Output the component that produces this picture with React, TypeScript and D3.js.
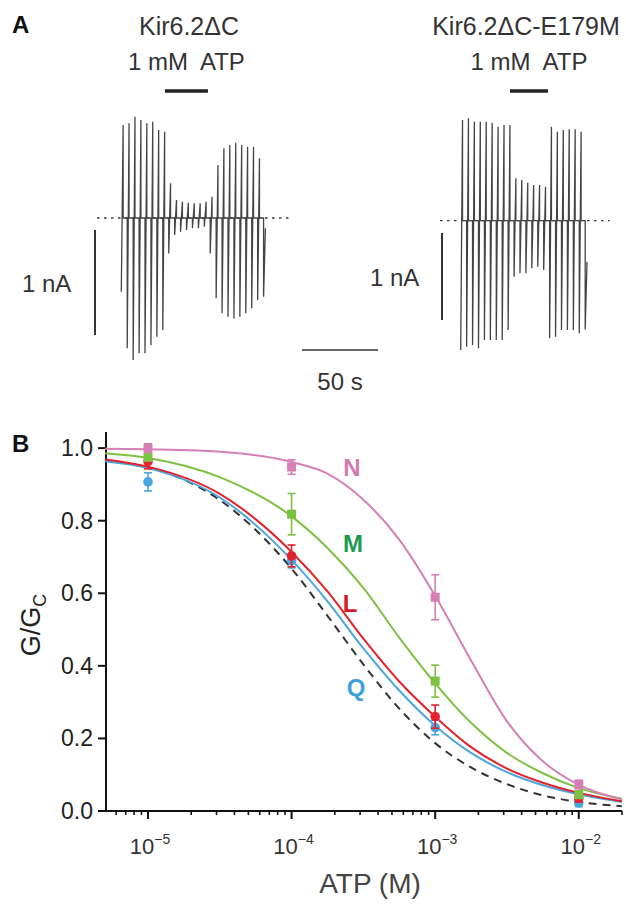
import * as d3 from 'd3'
import { useEffect, useRef } from 'react'

// ---- panel A: ramp currents (nA), one entry per voltage ramp ----
const wtTops = [0.886, 0.902, 0.965, 0.933, 0.902, 0.917, 0.838, 0.822, 0.33, 0.171, 0.155, 0.146, 0.14, 0.14, 0.155, 0.203, 0.505, 0.664, 0.695, 0.717, 0.695, 0.679, 0.679, 0.569, -0.098]
const wtBottoms = [-0.702, -1.241, -1.352, -1.289, -1.289, -1.21, -1.13, -1.067, -0.337, -0.162, -0.13, -0.114, -0.098, -0.098, -0.083, -0.337, -0.765, -0.908, -0.94, -0.956, -0.94, -0.908, -0.86, -0.781, -0.75]
const mutTops = [1.157, 1.177, 1.138, 1.138, 1.138, 1.126, 1.08, 1.1, 1.1, 0.487, 0.468, 0.437, 0.41, 0.41, 0.391, 1.08, 1.023, 1.043, 1.051, 1.051, 1.023, -0.471]
const mutBottoms = [-1.486, -1.448, -1.429, -1.467, -1.371, -1.371, -1.371, -1.371, -1.256, -0.644, -0.605, -0.605, -0.547, -0.529, -0.567, -1.352, -1.333, -1.256, -1.256, -1.256, -1.294, -1.25]
const rampPeriod = 3.9 // s between ramps
const rampWidth = 1.2 // s
const wtAtp = [28.7, 57]
const mutAtp = [32.4, 57.4]

// ---- panel B: dose response ----
const atpConc = [1e-5, 1e-4, 1e-3, 1e-2]
const fitLogX = [-5.3, -5, -4.5, -4, -3.75, -3.5, -3.25, -3, -2.75, -2.5, -2.25, -2, -1.7]
const nFit = [0.998, 0.997, 0.99, 0.962, 0.93, 0.858, 0.748, 0.593, 0.415, 0.247, 0.137, 0.072, 0.032]
const mFit = [0.986, 0.973, 0.92, 0.812, 0.725, 0.615, 0.478, 0.352, 0.243, 0.16, 0.104, 0.063, 0.034]
const lFit = [0.969, 0.949, 0.874, 0.714, 0.605, 0.475, 0.357, 0.26, 0.176, 0.117, 0.078, 0.05, 0.027]
const qFit = [0.964, 0.945, 0.864, 0.692, 0.578, 0.448, 0.332, 0.235, 0.16, 0.107, 0.071, 0.046, 0.025]
const wtFit = [0.965, 0.947, 0.857, 0.668, 0.538, 0.404, 0.282, 0.187, 0.12, 0.074, 0.043, 0.025, 0.013]
const nMean = [1.0, 0.948, 0.589, 0.073]
const nErr = [0.012, 0.02, 0.062, 0.012]
const mMean = [0.975, 0.818, 0.358, 0.045]
const mErr = [0.01, 0.057, 0.044, 0.01]
const lMean = [0.963, 0.703, 0.26, 0.035]
const lErr = [0.02, 0.03, 0.032, 0.01]
const qMean = [0.907, 0.69, 0.23, 0.022]
const qErr = [0.025, 0.02, 0.02, 0.01]
const yTicks = [0, 0.2, 0.4, 0.6, 0.8, 1.0]
const xTicks = [-5, -4, -3, -2]

const FONT = '"Liberation Sans", Arial, Helvetica, sans-serif'
const INK = '#333'

const App = () => {
  const ref = useRef<SVGSVGElement>(null)

  useEffect(() => {
    const svg = d3.select(ref.current)
    svg.selectAll('*').remove()
    svg.attr('width', 626).attr('height', 906)

    // ---------- panel A ----------
    const pxPerSec = 1.52
    const drawTrace = (tops: number[], bottoms: number[], x0: number, zeroY: number, pxPerNa: number, atp: number[], dotted: number[], barX: number, barTop: number, labelX: number, title: string, titleX: number) => {
      const x = d3.scaleLinear().domain([0, 1]).range([x0, x0 + pxPerSec])
      const y = d3.scaleLinear().domain([0, 1]).range([zeroY, zeroY - pxPerNa])
      const pts: [number, number][] = []
      tops.forEach((top, i) => {
        const t = i * rampPeriod
        if (i > 0) pts.push([t, 0])
        pts.push([t, bottoms[i]])
        pts.push([t + rampWidth, top])
        if (i < tops.length - 1) pts.push([t + rampWidth, 0])
      })
      const g = svg.append('g')
      g.append('line')
        .attr('x1', x(dotted[0])).attr('x2', x(dotted[1]))
        .attr('y1', y(0)).attr('y2', y(0))
        .attr('stroke', INK).attr('stroke-width', 1.3).attr('stroke-dasharray', '2.5 4.5')
      g.append('path')
        .attr('d', d3.line().x((d) => x(d[0])).y((d) => y(d[1]))(pts))
        .attr('fill', 'none').attr('stroke', '#444').attr('stroke-width', 1.3)
      // ATP application bar
      g.append('line')
        .attr('x1', x(atp[0])).attr('x2', x(atp[1]))
        .attr('y1', 91).attr('y2', 91)
        .attr('stroke', '#222').attr('stroke-width', 3.5)
      // 1 nA scale bar
      g.append('line')
        .attr('x1', barX).attr('x2', barX)
        .attr('y1', barTop).attr('y2', barTop + (y(0) - y(1)))
        .attr('stroke', INK).attr('stroke-width', 2)
      g.append('text').attr('x', labelX).attr('y', barTop + (y(0) - y(1)) / 2 + 9)
        .attr('font-size', 24).attr('fill', INK).attr('font-family', FONT).text('1 nA')
      g.append('text').attr('x', titleX).attr('y', 35).attr('text-anchor', 'middle')
        .attr('font-size', 25).attr('fill', INK).attr('font-family', FONT).text(title)
      g.append('text').attr('x', x((atp[0] + atp[1]) / 2)).attr('y', 70).attr('text-anchor', 'middle')
        .attr('font-size', 24).attr('fill', INK).attr('font-family', FONT)
        .attr('xml:space', 'preserve').text('1 mM  ATP')
    }

    drawTrace(wtTops, wtBottoms, 121.3, 218, 105, wtAtp, [-16, 112], 95, 230, 22, 'Kir6.2\u0394C', 189)
    drawTrace(mutTops, mutBottoms, 460.7, 220.7, 87, mutAtp, [-13.6, 98], 442, 233, 370, 'Kir6.2\u0394C-E179M', 526)

    // 50 s time bar
    svg.append('line').attr('x1', 302).attr('x2', 302 + 50 * pxPerSec).attr('y1', 350).attr('y2', 350)
      .attr('stroke', INK).attr('stroke-width', 1.6)
    svg.append('text').attr('x', 340).attr('y', 390).attr('text-anchor', 'middle')
      .attr('font-size', 24).attr('fill', INK).attr('font-family', FONT).text('50 s')

    svg.append('text').attr('x', 12).attr('y', 33).attr('font-size', 24).attr('font-weight', 'bold')
      .attr('font-family', FONT).attr('fill', '#111').text('A')

    // ---------- panel B ----------
    const x = d3.scaleLog().domain([5.1e-6, 2e-2]).range([106, 622])
    const y = d3.scaleLinear().domain([0, 1.05]).range([811, 430])
    const b = svg.append('g')

    b.append('text').attr('x', 12).attr('y', 452).attr('font-size', 24).attr('font-weight', 'bold')
      .attr('font-family', FONT).attr('fill', '#111').text('B')

    // axes
    b.append('line').attr('x1', 106).attr('x2', 106).attr('y1', 432).attr('y2', y(0))
      .attr('stroke', '#111').attr('stroke-width', 2)
    b.append('line').attr('x1', 105).attr('x2', 622).attr('y1', y(0)).attr('y2', y(0))
      .attr('stroke', '#111').attr('stroke-width', 2)
    yTicks.forEach((v) => {
      b.append('line').attr('x1', 98).attr('x2', 106).attr('y1', y(v)).attr('y2', y(v))
        .attr('stroke', '#111').attr('stroke-width', 2)
      b.append('text').attr('x', 93).attr('y', y(v) + 8).attr('text-anchor', 'end')
        .attr('font-size', 23).attr('fill', '#222').attr('font-family', FONT).text(v.toFixed(1))
    })
    const minor = x.ticks().filter((t) => t >= 5.1e-6 && t <= 2e-2)
    minor.forEach((t) => {
      const major = Math.abs(Math.log10(t) - Math.round(Math.log10(t))) < 1e-6
      b.append('line').attr('x1', x(t)).attr('x2', x(t)).attr('y1', y(0)).attr('y2', y(0) + (major ? 8 : 4))
        .attr('stroke', '#111').attr('stroke-width', major ? 2 : 1.6)
    })
    xTicks.forEach((e) => {
      const tx = b.append('text').attr('x', x(Math.pow(10, e)) + 2).attr('y', 854).attr('text-anchor', 'middle')
        .attr('font-size', 22).attr('fill', '#333').attr('font-family', FONT)
      tx.append('tspan').text('10')
      tx.append('tspan').attr('font-size', 14).attr('dy', -10).text('\u2212' + Math.abs(e))
    })
    b.append('text').attr('x', 370).attr('y', 893).attr('text-anchor', 'middle')
      .attr('font-size', 28).attr('fill', '#444').attr('font-family', FONT).text('ATP (M)')
    const yl = b.append('text').attr('transform', 'translate(40,625) rotate(-90)').attr('text-anchor', 'middle')
      .attr('font-size', 27).attr('fill', '#222').attr('font-family', FONT)
    yl.append('tspan').text('G/G')
    yl.append('tspan').attr('font-size', 18).attr('dy', 6).text('C')

    // fits
    const fitLine = d3.line<number>()
      .x((_, i) => x(Math.pow(10, fitLogX[i])))
      .y((d) => y(d))
      .curve(d3.curveMonotoneX)
    b.append('path').attr('d', fitLine(wtFit)).attr('fill', 'none').attr('stroke', '#333')
      .attr('stroke-width', 2).attr('stroke-dasharray', '8 6')
    const series = [
      { fit: qFit, mean: qMean, err: qErr, color: '#4aa6de', shape: 'circle' },
      { fit: lFit, mean: lMean, err: lErr, color: '#e3222b', shape: 'circle' },
      { fit: mFit, mean: mMean, err: mErr, color: '#7dc143', shape: 'square' },
      { fit: nFit, mean: nMean, err: nErr, color: '#d67fb4', shape: 'square' },
    ]
    series.forEach((s) => {
      b.append('path').attr('d', fitLine(s.fit)).attr('fill', 'none').attr('stroke', s.color).attr('stroke-width', 2)
    })
    series.forEach((s) => {
      const gs = b.append('g').attr('stroke', s.color).attr('fill', s.color)
      atpConc.forEach((c, i) => {
        const cx = x(c)
        const lo = y(s.mean[i] - s.err[i])
        const hi = y(s.mean[i] + s.err[i])
        gs.append('line').attr('x1', cx).attr('x2', cx).attr('y1', lo).attr('y2', hi).attr('stroke-width', 1.6)
        gs.append('line').attr('x1', cx - 4).attr('x2', cx + 4).attr('y1', lo).attr('y2', lo).attr('stroke-width', 1.6)
        gs.append('line').attr('x1', cx - 4).attr('x2', cx + 4).attr('y1', hi).attr('y2', hi).attr('stroke-width', 1.6)
        if (s.shape === 'circle') {
          gs.append('circle').attr('cx', cx).attr('cy', y(s.mean[i])).attr('r', 4.8).attr('stroke', 'none')
        } else {
          gs.append('rect').attr('x', cx - 4.5).attr('y', y(s.mean[i]) - 4.5).attr('width', 9).attr('height', 9).attr('stroke', 'none')
        }
      })
    })

    // curve labels
    const labels = [
      { t: 'N', x: 352, y: 476, c: '#d07bb0' },
      { t: 'M', x: 353, y: 552, c: '#1c9a4b' },
      { t: 'L', x: 350, y: 612, c: '#d71a2a' },
      { t: 'Q', x: 356, y: 696, c: '#3f9fdb' },
    ]
    labels.forEach((l) => {
      b.append('text').attr('x', l.x).attr('y', l.y).attr('text-anchor', 'middle')
        .attr('font-size', 24).attr('font-weight', 'bold').attr('fill', l.c).attr('font-family', FONT).text(l.t)
    })
  }, [])

  return (
    <div style={{ position: 'absolute', left: 0, top: 0, background: '#fff' }}>
      <svg ref={ref}></svg>
    </div>
  )
}

export default App
